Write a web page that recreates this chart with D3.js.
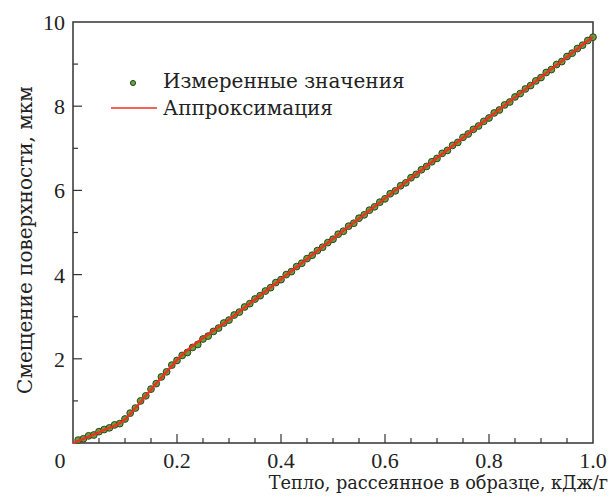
<!DOCTYPE html>
<html>
<head>
<meta charset="utf-8">
<script src="https://cdn.jsdelivr.net/npm/d3@7"></script>
<style>
  body { margin: 0; background: #fff; }
</style>
</head>
<body>
<div id="chart"></div>
<script>
// measured surface displacement vs dissipated heat
var heatX = [0.01,0.02,0.03,0.04,0.05,0.06,0.07,0.08,0.09,0.10,
    0.11,0.12,0.13,0.14,0.15,0.16,0.17,0.18,0.19,0.20,
    0.21,0.22,0.23,0.24,0.25,0.26,0.27,0.28,0.29,0.30,
    0.31,0.32,0.33,0.34,0.35,0.36,0.37,0.38,0.39,0.40,
    0.41,0.42,0.43,0.44,0.45,0.46,0.47,0.48,0.49,0.50,
    0.51,0.52,0.53,0.54,0.55,0.56,0.57,0.58,0.59,0.60,
    0.61,0.62,0.63,0.64,0.65,0.66,0.67,0.68,0.69,0.70,
    0.71,0.72,0.73,0.74,0.75,0.76,0.77,0.78,0.79,0.80,
    0.81,0.82,0.83,0.84,0.85,0.86,0.87,0.88,0.89,0.90,
    0.91,0.92,0.93,0.94,0.95,0.96,0.97,0.98,0.99,1.00];
var shiftY = [0.07,0.10,0.17,0.19,0.27,0.32,0.36,0.43,0.46,0.57,
    0.71,0.83,1.00,1.12,1.28,1.41,1.57,1.69,1.85,1.96,
    2.08,2.15,2.27,2.34,2.47,2.54,2.65,2.73,2.85,2.92,
    3.04,3.11,3.23,3.31,3.42,3.50,3.61,3.69,3.81,3.88,
    4.00,4.07,4.19,4.27,4.38,4.46,4.57,4.65,4.76,4.84,
    4.96,5.03,5.15,5.22,5.34,5.42,5.53,5.61,5.72,5.80,
    5.92,5.99,6.11,6.18,6.30,6.38,6.49,6.57,6.68,6.76,
    6.88,6.95,7.07,7.14,7.26,7.34,7.45,7.53,7.64,7.72,
    7.84,7.91,8.03,8.10,8.22,8.30,8.41,8.49,8.60,8.68,
    8.80,8.87,8.99,9.06,9.18,9.26,9.37,9.45,9.56,9.64];

// approximation curve
var fitX = [0,0.02,0.04,0.06,0.08,0.09,0.10,0.12,0.14,0.16,0.18,0.20,0.30,0.40,0.50,0.60,0.70,0.80,0.90,1.00];
var fitY = [0,0.10,0.20,0.31,0.41,0.47,0.56,0.83,1.12,1.41,1.69,1.97,2.93,3.89,4.85,5.81,6.77,7.73,8.69,9.65];

var xTicks = [0.2,0.4,0.6,0.8,1.0];
var yTicks = [2,4,6,8,10];

var legendLabels = ["Измеренные значения", "Аппроксимация"];
var xLabel = "Тепло, рассеянное в образце, кДж/г";
var yLabel = "Смещение поверхности, мкм";

var W = 615, H = 499;
var margin = {top: 22, right: 22, bottom: 56, left: 73};
var width = W - margin.left - margin.right,
    height = H - margin.top - margin.bottom;
var textFont = "'DejaVu Serif'";
var digitFont = "'Liberation Serif'";

var svg = d3.select("#chart").append("svg")
    .attr("width", W)
    .attr("height", H)
    .attr("font-family", textFont);
var g = svg.append("g")
    .attr("transform", "translate(" + margin.left + "," + margin.top + ")");

var x = d3.scaleLinear().domain([0, 1]).range([0, width]);
var y = d3.scaleLinear().domain([0, 10]).range([height, 0]);

var axisColor = "#333";
var textColor = "#222";

// minor + major ticks, pointing inward
var minorX = d3.range(0.05, 1.0, 0.05);
var minorY = d3.range(1, 10, 1);
g.selectAll(".xt").data(minorX).enter().append("line")
    .attr("x1", function(d) { return x(d); })
    .attr("x2", function(d) { return x(d); })
    .attr("y1", height)
    .attr("y2", function(d) { return Math.abs(d * 5 - Math.round(d * 5)) < 1e-6 ? height - 9 : height - 5; })
    .attr("stroke", axisColor).attr("stroke-width", 1.2);
g.selectAll(".yt").data(minorY).enter().append("line")
    .attr("y1", function(d) { return y(d); })
    .attr("y2", function(d) { return y(d); })
    .attr("x1", 0)
    .attr("x2", function(d) { return d % 2 == 0 ? 9 : 5; })
    .attr("stroke", axisColor).attr("stroke-width", 1.2);

// frame
g.append("rect")
    .attr("x", 0).attr("y", 0)
    .attr("width", width).attr("height", height)
    .attr("fill", "none")
    .attr("stroke", axisColor)
    .attr("stroke-width", 1.5);

var tickFont = 22;
g.selectAll(".xl").data(xTicks).enter().append("text")
    .attr("x", function(d) { return x(d); })
    .attr("y", height + 25)
    .attr("text-anchor", "middle")
    .attr("font-family", digitFont)
    .attr("fill", textColor)
    .style("font-size", tickFont + "px")
    .text(function(d) { return d3.format(".1f")(d); });
g.append("text")
    .attr("x", -13)
    .attr("y", height + 25)
    .attr("text-anchor", "middle")
    .attr("font-family", digitFont)
    .attr("fill", textColor)
    .style("font-size", tickFont + "px")
    .text("0");
g.selectAll(".yl").data(yTicks).enter().append("text")
    .attr("x", -8)
    .attr("y", function(d) { return y(d) + 8; })
    .attr("text-anchor", "end")
    .attr("font-family", digitFont)
    .attr("fill", textColor)
    .style("font-size", tickFont + "px")
    .text(function(d) { return d; });

// axis titles
svg.append("text")
    .attr("x", 608)
    .attr("y", 489)
    .attr("text-anchor", "end")
    .attr("fill", textColor)
    .style("font-size", "17.7px")
    .text(xLabel);
svg.append("text")
    .attr("transform", "translate(32,240) rotate(-90)")
    .attr("text-anchor", "middle")
    .attr("fill", textColor)
    .style("font-size", "20px")
    .text(yLabel);

var measured = heatX.map(function(d, i) { return [d, shiftY[i]]; });
var fitted = fitX.map(function(d, i) { return [d, fitY[i]]; });

g.selectAll(".pt").data(measured).enter().append("circle")
    .attr("cx", function(d) { return x(d[0]); })
    .attr("cy", function(d) { return y(d[1]); })
    .attr("r", 3.4)
    .attr("fill", "#62a43a")
    .attr("stroke", "#26361a")
    .attr("stroke-width", 0.9);

var line = d3.line()
    .x(function(d) { return x(d[0]); })
    .y(function(d) { return y(d[1]); })
    .curve(d3.curveMonotoneX);
g.append("path")
    .datum(fitted)
    .attr("d", line)
    .attr("fill", "none")
    .attr("stroke", "#f03020")
    .attr("stroke-width", 2.4);

// legend
var lg = svg.append("g");
lg.append("circle")
    .attr("cx", 133).attr("cy", 83).attr("r", 2.6)
    .attr("fill", "#62a43a").attr("stroke", "#26361a").attr("stroke-width", 0.9);
lg.append("line")
    .attr("x1", 111).attr("x2", 157)
    .attr("y1", 108).attr("y2", 108)
    .attr("stroke", "#f03020").attr("stroke-width", 1.5);
lg.selectAll(".lt").data(legendLabels).enter().append("text")
    .attr("x", 163)
    .attr("y", function(d, i) { return 88 + i * 27; })
    .attr("fill", textColor)
    .style("font-size", "20px")
    .text(function(d) { return d; });
</script>
</body>
</html>
